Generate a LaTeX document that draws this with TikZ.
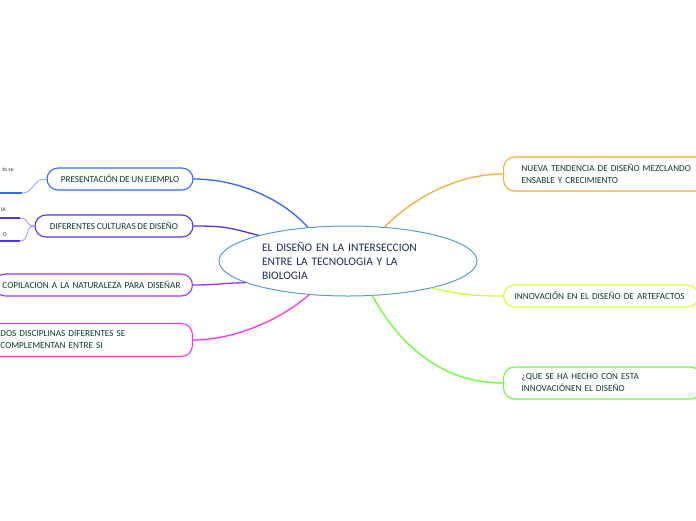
\documentclass[tikz,border=0pt]{standalone}
\usepackage{fontspec}
\setmainfont{Carlito}[WordSpace=0.8]
\usepackage{xcolor}
\usetikzlibrary{shapes.geometric, positioning}

\definecolor{cRoot}{HTML}{5B9BD5}
\definecolor{cRootTxt}{HTML}{1F2D5A}
\definecolor{cTxt}{HTML}{0E3B2E}
\definecolor{cBlue}{HTML}{3366FF}
\definecolor{cBlueL}{HTML}{8FA3FF}
\definecolor{cViolet}{HTML}{5533EE}
\definecolor{cVioletL}{HTML}{A08CFF}
\definecolor{cPurple}{HTML}{A033FF}
\definecolor{cMagenta}{HTML}{FF33DD}
\definecolor{cOrange}{HTML}{FFAA33}
\definecolor{cLime}{HTML}{CCFF33}
\definecolor{cGreen}{HTML}{66FF33}

\begin{document}
\begin{tikzpicture}[x=1pt, y=-1pt,
  root/.style={ellipse, draw=cRoot, line width=1pt, fill=white, inner sep=0pt,
               minimum width=258pt, minimum height=70pt, text width=172pt,
               align=left, text=cRootTxt, font=\fontsize{11.5}{14}\selectfont},
  topic/.style={rectangle, rounded corners=11pt, draw=#1, line width=1.1pt,
                fill=white, inner ysep=0pt, text=cTxt, align=left,
                font=\fontsize{9.2}{12}\selectfont},
  br/.style={#1, line width=1.3pt, line cap=round},
  sub/.style={#1, line width=0.8pt},
  uline/.style={#1, line width=1.8pt},
  frag/.style={font=\fontsize{6}{7}\selectfont, text=black!75, inner sep=0pt}
]
\path[use as bounding box, fill=white] (0,0) rectangle (696,520);

%% Root
\node[root] (root) at (348,261)
  {EL DISEÑO EN LA INTERSECCION\\ENTRE LA TECNOLOGIA Y LA\\BIOLOGIA};

%% Left topics
\node[topic=cBlue, minimum width=146pt, minimum height=22pt, align=center]
  (pres) at (120,179) {PRESENTACIÓN DE UN EJEMPLO};
\node[topic=cViolet, minimum width=158pt, minimum height=22pt, align=center]
  (cult) at (114,226) {DIFERENTES CULTURAS DE DISEÑO};
\node[topic=cPurple, anchor=east, inner xsep=8pt, text width=182pt,
      minimum height=22pt] (copi) at (193,285)
  {COPILACION A LA NATURALEZA PARA DISEÑAR};
\node[topic=cMagenta, anchor=east, inner xsep=11pt, text width=181pt,
      minimum height=33pt] (disc) at (193,340)
  {DOS DISCIPLINAS DIFERENTES SE\\COMPLEMENTAN ENTRE SI};

%% Right topics
\node[topic=cOrange, anchor=west, inner xsep=18pt, text width=172pt,
      minimum height=34pt] (nuev) at (503,174)
  {NUEVA TENDENCIA DE DISEÑO MEZCLANDO\\ENSABLE Y CRECIMIENTO};
\node[topic=cLime, anchor=west, inner xsep=11pt, text width=173pt,
      minimum height=22pt] (inno) at (503,296)
  {INNOVACIÓN EN EL DISEÑO DE ARTEFACTOS};
\node[topic=cGreen, anchor=west, inner xsep=18pt, text width=162pt,
      minimum height=32pt] (hech) at (503,383)
  {¿QUE SE HA HECHO CON ESTA\\INNOVACIÓNEN EL DISEÑO};

%% Branches
\draw[br=cBlue] (root.140) .. controls +(-25,-28) and +(45,0) .. (pres.east);
\draw[br=cViolet] (root.164) .. controls +(-30,-8) and +(30,0) .. (cult.east);
\draw[br=cPurple] (root.192) .. controls +(-20,0) and +(25,0) .. (copi.east);
\draw[br=cMagenta] (root.221) .. controls +(-35,30) and +(35,0) .. (disc.east);
\draw[br=cOrange] (root.43) .. controls +(30,-30) and +(-45,0) .. (nuev.west);
\draw[br=cLime] (root.342) .. controls +(30,6) and +(-35,0) .. (inno.west);
\draw[br=cGreen] (root.305) .. controls +(25,45) and +(-65,0) .. (hech.west);

%% Cut-off sub-branches at the left edge
\coordinate (p1) at (22,193);
\coordinate (p1e) at (-2,193);
\draw[sub=cBlueL] (pres.west) .. controls +(-14,0) and +(12,0) .. (p1);
\draw[uline=cBlue] (p1) -- (p1e);
\node[frag, anchor=east] (t1) at (14,170) {to se};

\coordinate (c1) at (20,218);
\coordinate (c1e) at (-2,218);
\coordinate (c2) at (20,241);
\coordinate (c2e) at (-2,241);
\draw[sub=cVioletL] (cult.west) .. controls +(-10,0) and +(10,0) .. (c1);
\draw[sub=cVioletL] (cult.west) .. controls +(-10,0) and +(10,0) .. (c2);
\draw[uline=cViolet] (c1) -- (c1e);
\draw[uline=cViolet] (c2) -- (c2e);
\node[frag, anchor=east] (t2) at (6,210) {IA};
\node[frag, anchor=east] (t3) at (7,235) {O};
\end{tikzpicture}
\end{document}
